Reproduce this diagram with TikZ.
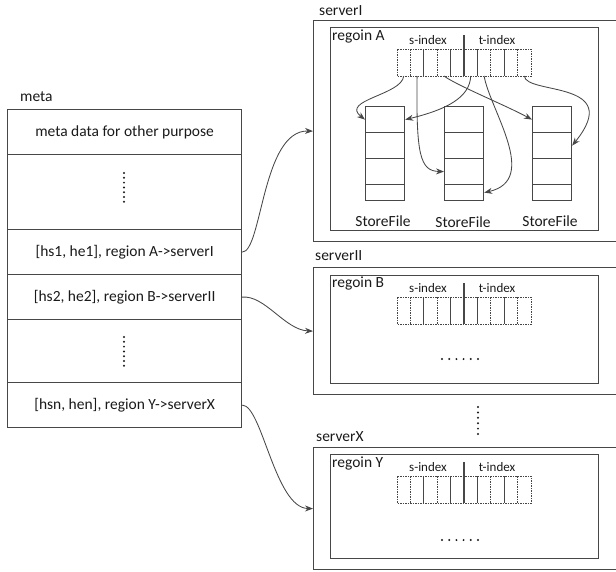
\documentclass[tikz,border=0pt]{standalone}
\usepackage{fontspec}
\setmainfont{Carlito}
\usetikzlibrary{arrows.meta}
\definecolor{linec}{HTML}{474747}
\definecolor{txtc}{HTML}{1A1A1A}
\tikzset{
  boxline/.style={draw=linec, line width=1.2pt},
  rowbox/.style={boxline, minimum width=234pt, inner sep=0pt, anchor=north west, text=txtc, font=\fontsize{15.5}{18}\selectfont},
  sfcell/.style={boxline, minimum width=39pt, inner sep=0pt, anchor=north west},
  srvbox/.style={boxline, minimum width=330pt, inner sep=0pt, anchor=north west},
  regbox/.style={boxline, minimum width=268pt, inner sep=0pt, anchor=north west},
  lbl/.style={inner sep=0pt, anchor=west, text=txtc, font=\fontsize{15.5}{18}\selectfont},
  idxlabel/.style={inner sep=0pt, text=txtc, font=\fontsize{13}{15}\selectfont},
  dashline/.style={draw=linec, line width=0.8pt, dash pattern=on 1.5pt off 1pt},
  solidline/.style={draw=linec, line width=1pt},
  conn/.style={draw=linec, line width=0.85pt, -{Stealth[length=8pt,width=6pt]}},
  dotc/.style={fill=txtc, draw=none},
  idx/.pic={
    \draw[dashline] (0,0) rectangle (134,27);
    \foreach \i in {1,3,7,9} \draw[dashline] (13.4*\i,0) -- (13.4*\i,27);
    \foreach \i in {2,4,6,8} \draw[solidline] (13.4*\i,0) -- (13.4*\i,27);
    \draw[solidline, line width=1.2pt] (67,-14) -- (67,27);
    \node[idxlabel] at (31,-9) {s-index};
    \node[idxlabel] at (100,-9) {t-index};
    \foreach \i in {1,...,10} \coordinate (-b\i) at (13.4*\i-6.7,27);
  }
}
\begin{document}
\begin{tikzpicture}[x=1pt, y=-1pt]
\clip (0,0) rectangle (616,571);

% meta table
\node[lbl] (metalbl) at (20,97) {meta};
\node[rowbox, minimum height=45pt] (r1) at (7,109) {meta data for other purpose};
\node[rowbox, minimum height=75pt] (r2) at (7,154) {};
\node[rowbox, minimum height=45pt] (r3) at (7,229) {[hs1, he1], region A->serverI};
\node[rowbox, minimum height=45pt] (r4) at (7,274) {[hs2, he2], region B->serverII};
\node[rowbox, minimum height=63pt] (r5) at (7,319) {};
\node[rowbox, minimum height=45pt] (r6) at (7,382) {[hsn, hen], region Y->serverX};
\foreach \k in {0,...,6} {
  \fill[dotc] (124,173+4.8*\k) circle (1.1);
  \fill[dotc] (124,337+4.8*\k) circle (1.1);
}

% servers
\node[srvbox, minimum height=221pt] (srvI) at (313,20) {};
\node[lbl] (srvIlbl) at (319,11) {serverI};
\node[srvbox, minimum height=127pt] (srvII) at (313,267) {};
\node[lbl] (srvIIlbl) at (315,256) {serverII};
\node[srvbox, minimum height=122pt] (srvX) at (313,447) {};
\node[lbl] (srvXlbl) at (316,437) {serverX};
\foreach \k in {0,...,5} \fill[dotc] (478,407+5.4*\k) circle (1.1);

% regions
\node[regbox, minimum height=203pt] (regA) at (330,27) {};
\node[lbl] (regAlbl) at (332,36) {regoin A};
\node[regbox, minimum height=108pt] (regB) at (330,275) {};
\node[lbl] (regBlbl) at (332,283) {regoin B};
\node[regbox, minimum height=104pt] (regY) at (330,454) {};
\node[lbl] (regYlbl) at (332,463) {regoin Y};

\pic (A) at (397,49) {idx};
\pic (B) at (397,297) {idx};
\pic (Y) at (397,476) {idx};

\foreach \k in {0,...,5} {
  \fill[dotc] (442+7.2*\k,359) circle (1.1);
  \fill[dotc] (442+7.2*\k,540) circle (1.1);
}

% StoreFiles
\foreach \c/\x in {1/365,2/444,3/532} {
  \node[sfcell, minimum height=26pt] (sf\c c1) at (\x,106) {};
  \node[sfcell, minimum height=26pt] (sf\c c2) at (\x,132) {};
  \node[sfcell, minimum height=26pt] (sf\c c3) at (\x,158) {};
  \node[sfcell, minimum height=16pt] (sf\c c4) at (\x,184) {};
}
\node[idxlabel, font=\fontsize{15.5}{18}\selectfont] (sf1lbl) at (383,221) {StoreFile};
\node[idxlabel, font=\fontsize{15.5}{18}\selectfont] (sf2lbl) at (463,222) {StoreFile};
\node[idxlabel, font=\fontsize{15.5}{18}\selectfont] (sf3lbl) at (550,221) {StoreFile};

% index -> storefile arrows
\draw[conn] (A-b1) .. controls (402,95) and (340,100) .. (sf1c1.west);
\draw[conn] (A-b2) .. controls (416,155) and (420,171) .. (sf2c3.west);
\draw[conn] (A-b4) .. controls (458,86) and (505,105) .. (sf3c1.west);
\draw[conn] (A-b6) .. controls (470,98) and (445,110) .. (sf1c1.east);
\draw[conn] (A-b7) .. controls (490,110) and (540,180) .. (sf2c4.east);
\draw[conn] (A-b10) .. controls (526,95) and (625,80) .. (sf3c2.east);

% meta -> servers
\draw[conn] (r3.east) .. controls (262,252) and (262,130) .. (srvI.west);
\draw[conn] (r4.east) .. controls (265,295) and (285,330) .. (srvII.west);
\draw[conn] (r6.east) .. controls (262,405) and (275,508) .. (srvX.west);
\end{tikzpicture}
\end{document}
